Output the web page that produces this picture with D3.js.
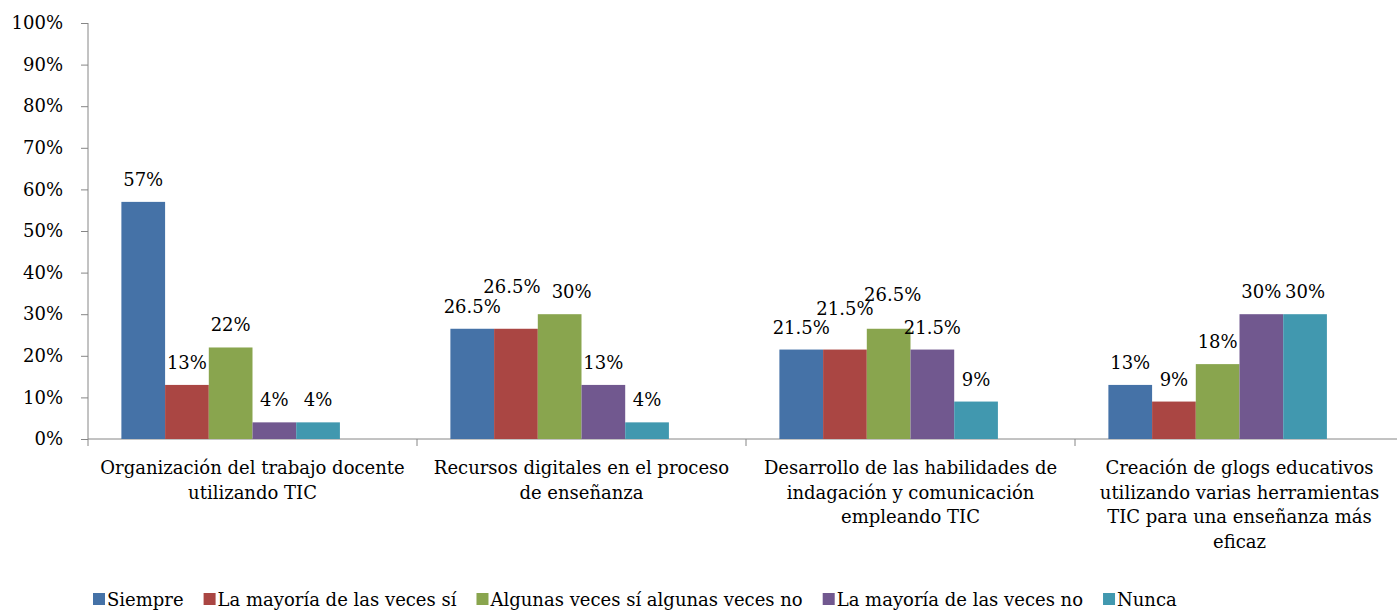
<!DOCTYPE html>
<html>
<head>
<meta charset="utf-8">
<script src="https://cdn.jsdelivr.net/npm/d3@7"></script>
<style>
  body { margin: 0; background: #fff; }
</style>
</head>
<body>
<div id="chart"></div>
<script>
// data
const categories = [
  "Organización del trabajo docente utilizando TIC",
  "Recursos digitales en el proceso de enseñanza",
  "Desarrollo de las habilidades de indagación y comunicación empleando TIC",
  "Creación de glogs educativos utilizando varias herramientas TIC para una enseñanza más eficaz"
];
const series = ["Siempre", "La mayoría de las veces sí", "Algunas veces sí algunas veces no", "La mayoría de las veces no", "Nunca"];
const values = [
  [57, 13, 22, 4, 4],
  [26.5, 26.5, 30, 13, 4],
  [21.5, 21.5, 26.5, 21.5, 9],
  [13, 9, 18, 30, 30]
];
const yTicks = [0, 10, 20, 30, 40, 50, 60, 70, 80, 90, 100];
const colors = ["#4572A7", "#AA4643", "#89A54E", "#71588F", "#4198AF"];

// labels Excel moved by hand to avoid overlaps: [category, series, dx, dy]
const labelNudges = [[1, 1, -4, -20], [1, 2, 12, 0], [2, 1, 0, -19], [2, 2, 4, -12]];

const FONT = "DejaVu Serif";
const FS = 18;

const margin = {top: 23, right: 0, bottom: 174, left: 88},
      width = 1316,
      height = 439 - margin.top;

const root = d3.select("#chart")
  .append("svg")
  .attr("width", 1397)
  .attr("height", 613)
  .attr("font-family", FONT);

const svg = root.append("g")
  .attr("transform", `translate(${margin.left}, ${margin.top})`);

const x0 = d3.scaleBand().domain(d3.range(categories.length)).range([0, width]);
// Excel reserves a sixth (empty) slot in each group
const x1 = d3.scaleBand().domain(d3.range(series.length + 1))
  .range([0, x0.bandwidth()]).paddingOuter(0.764);
const y = d3.scaleLinear().domain([0, 100]).range([height, 0]);

// Y axis
const yAxis = svg.append("g")
  .call(d3.axisLeft(y).tickValues(yTicks).tickFormat(d => d + "%").tickSize(7).tickPadding(18));
yAxis.attr("font-family", FONT).attr("font-size", FS);
yAxis.selectAll("text").attr("fill", "#000");
yAxis.select(".domain").attr("stroke", "#868686").attr("d", `M0,0V${height}`);
yAxis.selectAll("line").attr("stroke", "#868686");

// X axis
const xAxis = svg.append("g")
  .attr("transform", `translate(0, ${height})`);
xAxis.append("line").attr("x1", 0).attr("x2", width).attr("stroke", "#868686");
xAxis.selectAll(".tk")
  .data(d3.range(categories.length + 1))
  .join("line")
  .attr("class", "tk")
  .attr("x1", d => d * x0.step()).attr("x2", d => d * x0.step())
  .attr("y1", 0).attr("y2", 7)
  .attr("stroke", "#868686");

// bars
const groups = svg.append("g")
  .selectAll("g")
  .data(values)
  .join("g")
  .attr("transform", (d, i) => `translate(${x0(i)}, 0)`);

groups.selectAll("rect")
  .data(d => d)
  .join("rect")
  .attr("x", (d, j) => x1(j))
  .attr("y", d => y(d))
  .attr("width", x1.bandwidth())
  .attr("height", d => height - y(d))
  .attr("fill", (d, j) => colors[j]);

// data labels
groups.each(function(row, i) {
  d3.select(this).selectAll("text")
    .data(row)
    .join("text")
    .attr("text-anchor", "middle")
    .attr("font-size", FS)
    .attr("x", (d, j) => {
      const n = labelNudges.find(a => a[0] === i && a[1] === j);
      return x1(j) + x1.bandwidth() / 2 + (n ? n[2] : 0);
    })
    .attr("y", (d, j) => {
      const n = labelNudges.find(a => a[0] === i && a[1] === j);
      return y(d) - 16 + (n ? n[3] : 0);
    })
    .text(d => d + "%");
});

// category labels, wrapped
function wrap(textSel, maxW) {
  textSel.each(function() {
    const t = d3.select(this);
    const words = t.text().split(" ");
    t.text(null);
    let line = [];
    let tspan = t.append("tspan").attr("x", 0).attr("dy", 0);
    words.forEach(w => {
      line.push(w);
      tspan.text(line.join(" "));
      if (tspan.node().getComputedTextLength() > maxW && line.length > 1) {
        line.pop();
        tspan.text(line.join(" "));
        line = [w];
        tspan = t.append("tspan").attr("x", 0).attr("dy", 24.5).text(w);
      }
    });
  });
}

xAxis.selectAll(".cat")
  .data(categories)
  .join("text")
  .attr("class", "cat")
  .attr("text-anchor", "middle")
  .attr("font-size", FS)
  .attr("transform", (d, i) => `translate(${x0(i) + x0.bandwidth() / 2}, 35)`)
  .text(d => d)
  .call(wrap, 310);

// legend
const legend = root.append("g").attr("transform", "translate(93, 0)");
let lx = 0;
series.forEach((s, j) => {
  const g = legend.append("g").attr("transform", `translate(${lx}, 0)`);
  g.append("rect").attr("x", 0).attr("y", 593).attr("width", 12).attr("height", 12).attr("fill", colors[j]);
  const t = g.append("text").attr("x", 14).attr("y", 606)
    .attr("font-size", FS).text(s);
  lx += 14 + t.node().getComputedTextLength() + 20;
});
</script>
</body>
</html>
